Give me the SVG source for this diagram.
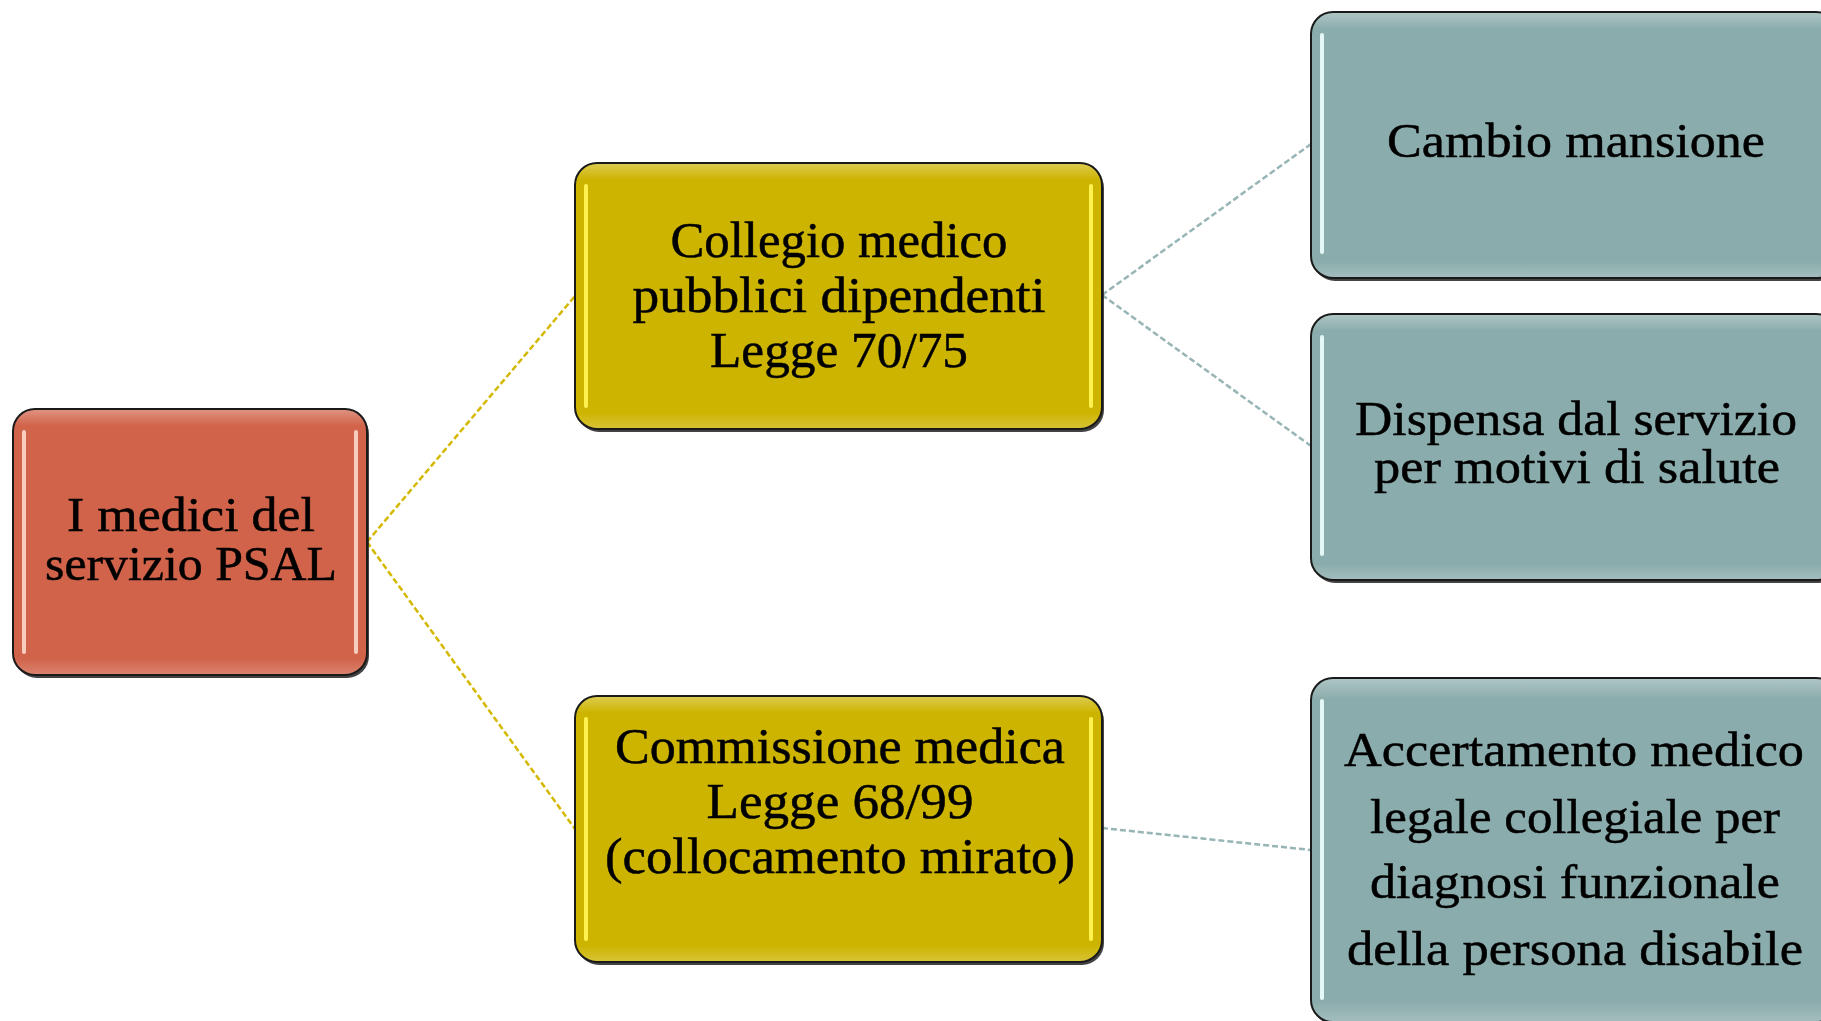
<svg xmlns="http://www.w3.org/2000/svg" width="1821" height="1021" viewBox="0 0 1821 1021">
<defs>
<linearGradient id="gloss" x1="0" y1="0" x2="0" y2="1">
<stop offset="0" stop-color="#ffffff" stop-opacity="0.3"/>
<stop offset="0.06" stop-color="#ffffff" stop-opacity="0"/>
<stop offset="0.94" stop-color="#ffffff" stop-opacity="0"/>
<stop offset="1" stop-color="#ffffff" stop-opacity="0.2"/>
</linearGradient>
</defs>
<style>
.shadow{fill:#222222;opacity:0.85}
.box{stroke:#1a1a1a;stroke-width:2}
.gl{fill:url(#gloss);stroke:none}
.root{fill:#D1634A}
.mid{fill:#CDB400}
.leaf{fill:#8BACAC}
.hl{fill:none;stroke-width:4;stroke-linecap:round}
.hl-root{stroke:#F7CDBE}
.hl-mid{stroke:#FFF24E}
.hl-leaf{stroke:#E6F7F7}
.lbl{font-family:"Liberation Serif","Times New Roman",serif;fill:#000000;stroke:#000000;stroke-width:0.5;text-anchor:middle}
.conn{fill:none;stroke-width:2.5;stroke-dasharray:6 3}
.c-y{stroke:#D4B800}
.c-t{stroke:#97B5B5}
</style>
<rect width="1821" height="1021" fill="#ffffff"/>

<g id="connectors">
<line class="conn c-y" x1="367" y1="542" x2="575" y2="296"/>
<line class="conn c-y" x1="367" y1="542" x2="575" y2="829"/>
<line class="conn c-t" x1="1102" y1="295" x2="1311" y2="144"/>
<line class="conn c-t" x1="1102" y1="295" x2="1311" y2="446"/>
<line class="conn c-t" x1="1102" y1="828" x2="1311" y2="850"/>
</g>

<g id="node-root">
<rect class="shadow" x="15" y="412" width="354" height="266" rx="22"/>
<rect class="box root" x="13" y="409" width="354" height="266" rx="22"/>
<rect class="gl" x="14" y="410" width="352" height="264" rx="21"/>
<line class="hl hl-root" x1="24" y1="432" x2="24" y2="652"/>
<line class="hl hl-root" x1="356" y1="432" x2="356" y2="652"/>
<text class="lbl" font-size="48"><tspan x="191" y="531" textLength="248" lengthAdjust="spacingAndGlyphs">I medici del</tspan><tspan x="191" y="580" textLength="292" lengthAdjust="spacingAndGlyphs">servizio PSAL</tspan></text>
</g>

<g id="node-collegio">
<rect class="shadow" x="577" y="166" width="527" height="266" rx="22"/>
<rect class="box mid" x="575" y="163" width="527" height="266" rx="22"/>
<rect class="gl" x="576" y="164" width="525" height="264" rx="21"/>
<line class="hl hl-mid" x1="586" y1="186" x2="586" y2="406"/>
<line class="hl hl-mid" x1="1091" y1="186" x2="1091" y2="406"/>
<text class="lbl" font-size="50"><tspan x="839" y="257" textLength="337" lengthAdjust="spacingAndGlyphs">Collegio medico</tspan><tspan x="839" y="312" textLength="413" lengthAdjust="spacingAndGlyphs">pubblici dipendenti</tspan><tspan x="839" y="367" textLength="258" lengthAdjust="spacingAndGlyphs">Legge 70/75</tspan></text>
</g>

<g id="node-commissione">
<rect class="shadow" x="577" y="699" width="527" height="266" rx="22"/>
<rect class="box mid" x="575" y="696" width="527" height="266" rx="22"/>
<rect class="gl" x="576" y="697" width="525" height="264" rx="21"/>
<line class="hl hl-mid" x1="586" y1="719" x2="586" y2="939"/>
<line class="hl hl-mid" x1="1091" y1="719" x2="1091" y2="939"/>
<text class="lbl" font-size="50"><tspan x="840" y="763" textLength="450" lengthAdjust="spacingAndGlyphs">Commissione medica</tspan><tspan x="840" y="818" textLength="267" lengthAdjust="spacingAndGlyphs">Legge 68/99</tspan><tspan x="840" y="873" textLength="470" lengthAdjust="spacingAndGlyphs">(collocamento mirato)</tspan></text>
</g>

<g id="node-cambio">
<rect class="shadow" x="1313" y="15" width="527" height="266" rx="22"/>
<rect class="box leaf" x="1311" y="12" width="527" height="266" rx="22"/>
<rect class="gl" x="1312" y="13" width="525" height="264" rx="21"/>
<line class="hl hl-leaf" x1="1322" y1="35" x2="1322" y2="252"/>
<text class="lbl" font-size="48"><tspan x="1576" y="157" textLength="378" lengthAdjust="spacingAndGlyphs">Cambio mansione</tspan></text>
</g>

<g id="node-dispensa">
<rect class="shadow" x="1313" y="317" width="527" height="266" rx="22"/>
<rect class="box leaf" x="1311" y="314" width="527" height="266" rx="22"/>
<rect class="gl" x="1312" y="315" width="525" height="264" rx="21"/>
<line class="hl hl-leaf" x1="1322" y1="337" x2="1322" y2="554"/>
<text class="lbl" font-size="48"><tspan x="1576" y="435" textLength="442" lengthAdjust="spacingAndGlyphs">Dispensa dal servizio</tspan><tspan x="1577" y="483" textLength="406" lengthAdjust="spacingAndGlyphs">per motivi di salute</tspan></text>
</g>

<g id="node-accertamento">
<rect class="shadow" x="1313" y="681" width="527" height="344" rx="22"/>
<rect class="box leaf" x="1311" y="678" width="527" height="344" rx="22"/>
<rect class="gl" x="1312" y="679" width="525" height="342" rx="21"/>
<line class="hl hl-leaf" x1="1322" y1="701" x2="1322" y2="998"/>
<text class="lbl" font-size="48"><tspan x="1574" y="766" textLength="460" lengthAdjust="spacingAndGlyphs">Accertamento medico</tspan><tspan x="1575" y="833" textLength="410" lengthAdjust="spacingAndGlyphs">legale collegiale per</tspan><tspan x="1575" y="898" textLength="410" lengthAdjust="spacingAndGlyphs">diagnosi funzionale</tspan><tspan x="1575" y="965" textLength="456" lengthAdjust="spacingAndGlyphs">della persona disabile</tspan></text>
</g>
</svg>
